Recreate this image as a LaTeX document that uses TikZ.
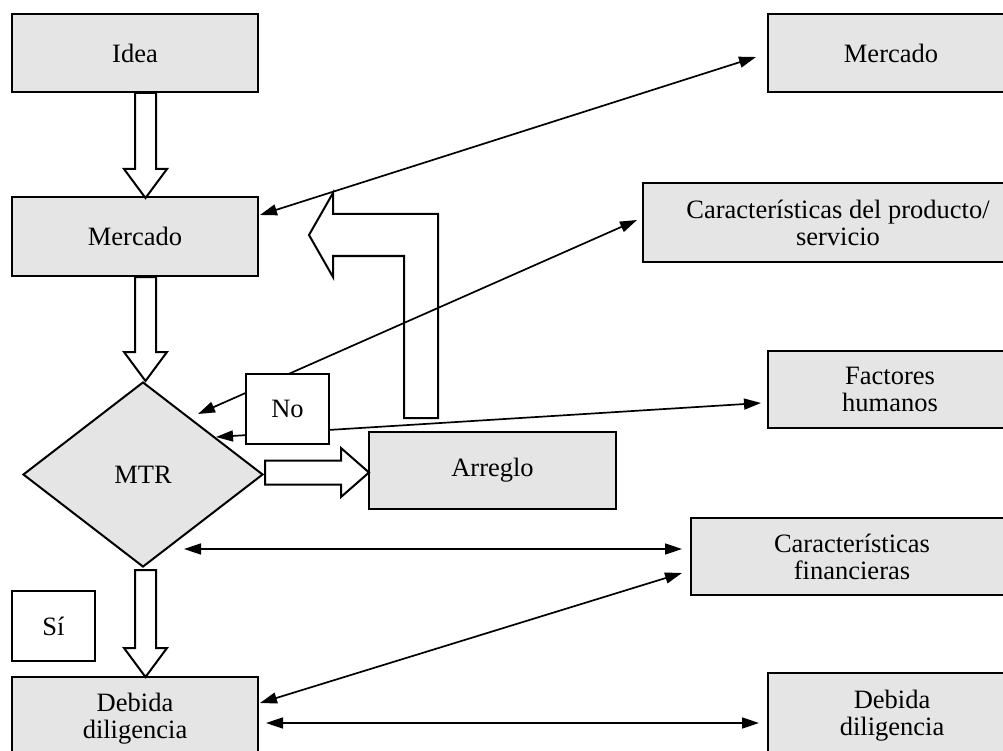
\documentclass[tikz,border=0pt]{standalone}
\usepackage{fontspec}
\setmainfont{Liberation Serif}
\usetikzlibrary{arrows.meta,shapes.geometric}
\newcommand{\downblock}[2]{%
  \draw[hollow] (#1) ++(-10.5,0) -- ++(0,#2) -- ++(-11,0) -- ++(21.5,29)
    -- ++(21.5,-29) -- ++(-11,0) -- ++(0,-#2) -- cycle;}
\begin{document}
\begin{tikzpicture}
    [x=1pt, y=-1pt,
     box/.style={draw, line width=2pt, fill=gray!20, inner sep=0pt, align=center},
     tag/.style={draw, line width=2pt, fill=white, inner sep=0pt},
     hollow/.style={draw, line width=2pt, fill=white, line join=miter},
     link/.style={{Triangle[length=17pt,width=11pt]}-{Triangle[length=17pt,width=11pt]}, line width=1.7pt},
     font=\fontsize{26.5}{27}\selectfont]
    \useasboundingbox (0,0) rectangle (1003,751);
    \node[box, minimum width=246pt, minimum height=78pt] (idea) at (135,53) {Idea};
    \node[box, minimum width=246pt, minimum height=79pt] (merc) at (135,236.5) {Mercado};
    \node[box, diamond, minimum width=240pt, minimum height=185pt] (mtr) at (143,474.5) {MTR};
    \node[box, minimum width=247pt, minimum height=77pt] (arreglo) at (492.5,470.5) {Arreglo};
    \node[tag, minimum width=83pt, minimum height=70pt] (si) at (53.5,626) {Sí};
    \node[box, minimum width=246pt, minimum height=84pt] (debidaL) at (135,719) {Debida\\diligencia};
    \node[box, minimum width=246pt, minimum height=78pt] (mercR) at (891,53) {Mercado};
    \node[box, minimum width=390pt, minimum height=79pt] (caracProd) at (838,222.5) {Características del producto/\\servicio};
    \node[box, minimum width=244pt, minimum height=77pt] (factores) at (890,389.5) {Factores\\humanos};
    \node[box, minimum width=322pt, minimum height=77pt] (caracFin) at (852,556.5) {Características\\financieras};
    \node[box, minimum width=248pt, minimum height=86pt] (debidaR) at (892,716) {Debida\\diligencia};
    \draw[line width=2pt, line join=miter] (404,418) -- (438,418) -- (438,214) -- (333,214) -- (333,193)
        -- (309,235) -- (333,277) -- (333,256) -- (404,256) -- cycle;
    \downblock{[shift={(10.5,0)}]idea.south}{76}
    \downblock{[shift={(10.5,0)}]merc.south}{75}
    \downblock{[shift={(2.5,2)}]mtr.south}{78}
    \draw[hollow] ([shift={(1,-2)}]mtr.east) ++(0,-12) -- ++(76,0) -- ++(0,-12.5) -- ++(28,24.5)
        -- ++(-28,24.5) -- ++(0,-12.5) -- ++(-76,0) -- cycle;
    \draw[link] ([shift={(1,-21.5)}]merc.east) -- ([shift={(-11,4)}]mercR.west);
    \draw[link] ([shift={(55,-60.5)}]mtr.center) -- ([shift={(-5,-2.5)}]caracProd.west);
    \draw[link] ([shift={(73,-37.5)}]mtr.center) -- ([shift={(-6,13.5)}]factores.west);
    \draw[link] ([shift={(41,74.5)}]mtr.center) -- ([shift={(-8,-7.5)}]caracFin.west);
    \draw[link] ([shift={(1,-16)}]debidaL.east) -- ([shift={(-8,16.5)}]caracFin.west);
    \draw[link] ([shift={(7,4)}]debidaL.east) -- ([shift={(-8,7)}]debidaR.west);
    \node[tag, minimum width=83pt, minimum height=70pt] (no) at (287.5,409) {No};
\end{tikzpicture}
\end{document}
